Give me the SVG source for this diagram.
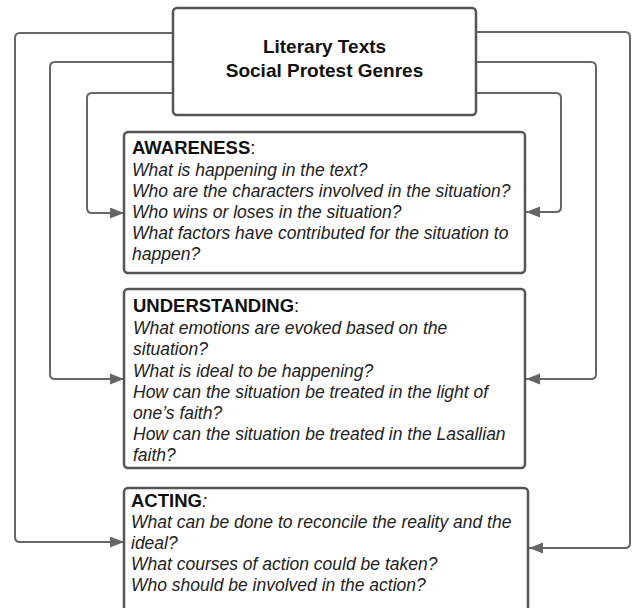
<svg xmlns="http://www.w3.org/2000/svg" width="633" height="608" viewBox="0 0 633 608">
<defs>
<style>
.box{fill:#fff;stroke:#555;stroke-width:2.5}
.conn{fill:none;stroke:#666;stroke-width:2}
.title{font-family:"Liberation Sans",Arial,sans-serif;font-weight:bold;font-size:19px;fill:#111;text-anchor:middle}
.head{font-family:"Liberation Sans",Arial,sans-serif;font-weight:bold;font-size:18.5px;fill:#111}
.colon{font-weight:normal}
.body{font-family:"Liberation Sans",Arial,sans-serif;font-style:italic;font-size:17.5px;fill:#222}
</style>
<marker id="arr" markerUnits="userSpaceOnUse" markerWidth="15" markerHeight="12" refX="14" refY="5.5" orient="auto">
<path d="M0,0 L14,5.5 L0,11 z" fill="#666"/>
</marker>
</defs>
<g id="connectors">
<path class="conn" d="M173,33 H20 Q15,33 15,38 V537 Q15,542 20,542 H124" marker-end="url(#arr)"/>
<path class="conn" d="M476,32 H625 Q630,32 630,37 V543 Q630,548 625,548 H529" marker-end="url(#arr)"/>
<path class="conn" d="M173,62 H55 Q50,62 50,67 V374 Q50,379 55,379 H124" marker-end="url(#arr)"/>
<path class="conn" d="M476,62 H591 Q596,62 596,67 V374 Q596,379 591,379 H526" marker-end="url(#arr)"/>
<path class="conn" d="M173,93 H92 Q87,93 87,98 V208 Q87,213 92,213 H124" marker-end="url(#arr)"/>
<path class="conn" d="M476,93 H556 Q561,93 561,98 V207 Q561,212 556,212 H526" marker-end="url(#arr)"/>
</g>
<g id="title">
<rect class="box" x="173" y="8" width="303" height="107" rx="4"/>
<text class="title" x="324.5" y="53">Literary Texts</text>
<text class="title" x="324.5" y="77">Social Protest Genres</text>
</g>
<g id="awareness">
<rect class="box" x="124" y="132" width="401" height="141" rx="4"/>
<text class="head" x="132" y="154">AWARENESS<tspan class="colon">:</tspan></text>
<text class="body" x="132" y="176">What is happening in the text?</text>
<text class="body" x="132" y="197">Who are the characters involved in the situation?</text>
<text class="body" x="132" y="218">Who wins or loses in the situation?</text>
<text class="body" x="132" y="239">What factors have contributed for the situation to</text>
<text class="body" x="132" y="260">happen?</text>
</g>
<g id="understanding">
<rect class="box" x="124" y="289" width="401" height="179" rx="4"/>
<text class="head" x="133" y="312">UNDERSTANDING<tspan class="colon">:</tspan></text>
<text class="body" x="133" y="334">What emotions are evoked based on the</text>
<text class="body" x="133" y="355">situation?</text>
<text class="body" x="133" y="377">What is ideal to be happening?</text>
<text class="body" x="133" y="398">How can the situation be treated in the light of</text>
<text class="body" x="133" y="419">one’s faith?</text>
<text class="body" x="133" y="440">How can the situation be treated in the Lasallian</text>
<text class="body" x="133" y="461">faith?</text>
</g>
<g id="acting">
<rect class="box" x="124" y="488" width="404" height="130" rx="4"/>
<text class="head" x="131" y="507">ACTING<tspan class="colon" font-style="italic">:</tspan></text>
<text class="body" x="131" y="528">What can be done to reconcile the reality and the</text>
<text class="body" x="131" y="549">ideal?</text>
<text class="body" x="131" y="570">What courses of action could be taken?</text>
<text class="body" x="131" y="591">Who should be involved in the action?</text>
</g>
</svg>
